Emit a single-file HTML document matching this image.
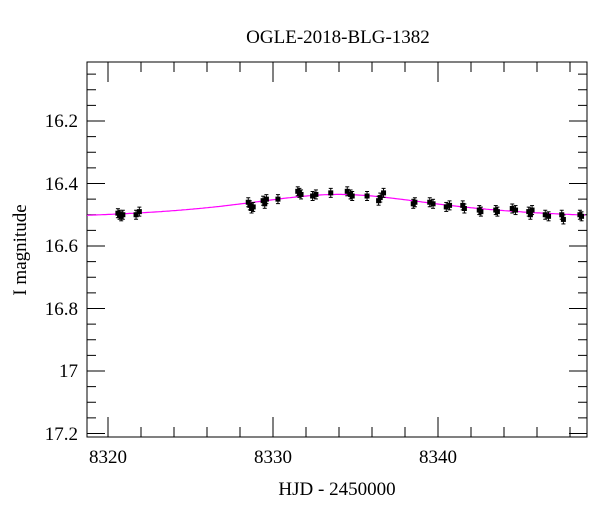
<!DOCTYPE html>
<html><head><meta charset="utf-8"><style>
body{margin:0;background:#fff}
svg text{font-family:"Liberation Serif",serif;fill:#000}
</style></head><body>
<svg id="s" width="600" height="512" xmlns="http://www.w3.org/2000/svg">
<rect x="0" y="0" width="600" height="512" fill="#fff"/>
<text x="338" y="43" font-size="19" text-anchor="middle">OGLE-2018-BLG-1382</text>
<text x="337" y="495" font-size="19" text-anchor="middle">HJD - 2450000</text>
<text transform="translate(26,250) rotate(-90)" font-size="19" text-anchor="middle">I magnitude</text>
<g font-size="19" text-anchor="end">
<text x="78" y="127">16.2</text>
<text x="78" y="190">16.4</text>
<text x="78" y="252">16.6</text>
<text x="78" y="315">16.8</text>
<text x="78" y="377">17</text>
<text x="78" y="440">17.2</text>
</g>
<g font-size="19" text-anchor="middle">
<text x="108" y="463">8320</text>
<text x="273" y="463">8330</text>
<text x="438" y="463">8340</text>
</g>
<g id="ax" stroke="#000" stroke-width="1" fill="none"></g>
<g id="pts"></g>
</svg>
<script>
var ns="http://www.w3.org/2000/svg";
function X(t){return 108+(t-8320)*16.5}
function Y(m){return 121+(m-16.2)*312.5}
var L=87,R=587,T=62,B=437;
var ax=document.getElementById('ax'),h='';
h+='<rect x="'+L+'" y="'+T+'" width="'+(R-L)+'" height="'+(B-T)+'"/>';
for(var t=8320;t<=8349;t+=2){var x=X(t),len=(t%10==0)?20:10;
h+='<line x1="'+x+'" y1="'+B+'" x2="'+x+'" y2="'+(B-len)+'"/>';
h+='<line x1="'+x+'" y1="'+T+'" x2="'+x+'" y2="'+(T+len)+'"/>';}
for(var i=0;i<=24;i++){var m=16.05+i*0.05,y=Y(m);if(y<T||y>B)continue;var maj=(Math.round(m*100)%20==0);var len=maj?18:9;
h+='<line x1="'+L+'" y1="'+y+'" x2="'+(L+len)+'" y2="'+y+'"/>';
h+='<line x1="'+R+'" y1="'+y+'" x2="'+(R-len)+'" y2="'+y+'"/>';}
var d='';for(var t=8318.73;t<=8349.03;t+=0.1){var m=16.52-0.085/(1+Math.pow((t-8334)/8,2));d+=(d?'L':'M')+X(t).toFixed(1)+' '+Y(m).toFixed(1);}
h+='<path d="'+d+'" stroke="#ff00ff" stroke-width="1.2"/>';
ax.innerHTML=h;
var P=[[8320.6,16.495],[8320.7,16.5],[8320.8,16.505],[8320.9,16.5],[8321.7,16.5],[8321.9,16.49],
[8328.5,16.46],[8328.6,16.47],[8328.7,16.48],[8328.8,16.475],[8329.4,16.455],[8329.5,16.465],[8329.6,16.45],[8330.3,16.45],
[8331.5,16.425],[8331.6,16.43],[8331.7,16.435],[8332.4,16.44],[8332.6,16.435],[8333.5,16.43],[8334.5,16.425],[8334.7,16.435],[8334.8,16.44],
[8335.7,16.44],[8336.4,16.455],[8336.5,16.445],[8336.7,16.43],[8338.5,16.465],[8338.6,16.46],[8339.5,16.46],[8339.7,16.465],
[8340.5,16.475],[8340.7,16.47],[8341.5,16.47],[8341.6,16.48],[8342.5,16.485],[8342.6,16.49],[8343.5,16.485],[8343.6,16.49],
[8344.5,16.48],[8344.7,16.485],[8345.5,16.49],[8345.6,16.5],[8345.7,16.485],[8346.5,16.5],[8346.7,16.505],[8347.5,16.5],[8347.6,16.515],[8348.6,16.5],[8348.7,16.505]];
var g='';P.forEach(function(p){var x=X(p[0]),y=Y(p[1]);
g+='<line x1="'+x+'" y1="'+(y-4.5)+'" x2="'+x+'" y2="'+(y+4.5)+'" stroke="#000" stroke-width="1"/>';
g+='<line x1="'+(x-2)+'" y1="'+(y-4.5)+'" x2="'+(x+2)+'" y2="'+(y-4.5)+'" stroke="#000"/>';
g+='<line x1="'+(x-2)+'" y1="'+(y+4.5)+'" x2="'+(x+2)+'" y2="'+(y+4.5)+'" stroke="#000"/>';
g+='<rect x="'+(x-2.5)+'" y="'+(y-2.5)+'" width="5" height="5" fill="#000"/>';});
document.getElementById('pts').innerHTML=g;
</script>
</body></html>
